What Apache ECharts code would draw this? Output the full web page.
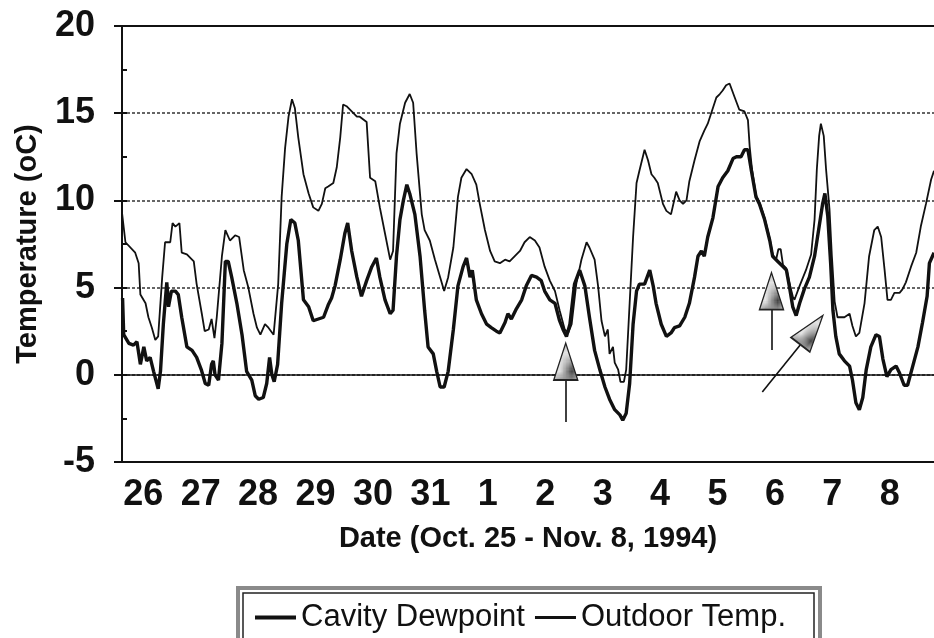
<!DOCTYPE html>
<html>
<head>
<meta charset="utf-8">
<script src="https://cdn.jsdelivr.net/npm/echarts@6/dist/echarts.min.js"></script>
<style>
  html, body { margin: 0; padding: 0; background: #fff; }
  #chart-container { width: 934px; height: 638px; }
</style>
</head>
<body>
<div id="chart-container"></div>
<script>
// x = days after Oct. 25 00:00, value = temperature in oC
const dateLabels = ['26', '27', '28', '29', '30', '31', '1', '2', '3', '4', '5', '6', '7', '8'];
const dateTicks = [1, 2, 3, 4, 5, 6, 7, 8, 9, 10, 11, 12, 13, 14];

const outdoorTemp = [
  [0.63,9.3],[0.69,7.6],[0.86,7.0],[0.92,6.4],[0.95,4.6],[1.04,4.1],[1.09,3.3],[1.15,2.7],[1.21,2.0],[1.26,2.2],
  [1.33,5.6],[1.38,7.6],[1.47,7.6],[1.51,8.7],[1.56,8.5],[1.63,8.7],[1.67,7.0],[1.76,6.9],[1.88,6.5],[1.93,5.2],
  [2.02,3.5],[2.07,2.5],[2.14,2.6],[2.19,3.2],[2.24,2.1],[2.28,3.3],[2.37,6.8],[2.43,8.3],[2.51,7.7],[2.60,8.0],
  [2.67,7.9],[2.75,6.0],[2.83,5.0],[2.92,3.5],[2.98,2.7],[3.04,2.3],[3.12,2.9],[3.18,2.7],[3.27,2.3],[3.35,5.2],
  [3.41,10.2],[3.47,13.0],[3.53,14.8],[3.59,15.8],[3.64,15.3],[3.70,13.6],[3.79,11.5],[3.88,10.4],[3.96,9.6],[4.05,9.4],
  [4.11,9.8],[4.17,10.7],[4.22,10.8],[4.31,11.0],[4.37,11.9],[4.43,13.6],[4.48,15.5],[4.54,15.4],[4.63,15.1],[4.72,14.8],
  [4.77,14.8],[4.89,14.5],[4.95,11.3],[5.04,11.1],[5.12,9.6],[5.21,8.1],[5.30,6.6],[5.35,7.1],[5.41,12.7],[5.47,14.4],
  [5.56,15.6],[5.64,16.1],[5.70,15.6],[5.76,12.7],[5.85,9.2],[5.90,8.3],[5.99,7.7],[6.08,6.6],[6.17,5.6],[6.24,4.8],
  [6.31,5.6],[6.40,7.3],[6.48,10.2],[6.54,11.3],[6.63,11.8],[6.72,11.5],[6.80,10.9],[6.86,9.8],[6.95,8.3],[7.04,7.1],
  [7.12,6.5],[7.21,6.4],[7.30,6.6],[7.38,6.5],[7.47,6.8],[7.56,7.1],[7.64,7.6],[7.73,7.9],[7.82,7.7],[7.90,7.3],
  [7.99,6.2],[8.08,5.4],[8.17,4.8],[8.25,3.7],[8.34,2.6],[8.40,2.4],[8.46,2.9],[8.54,5.2],[8.63,6.6],[8.72,7.6],
  [8.77,7.3],[8.86,6.6],[8.92,5.1],[8.98,3.1],[9.04,2.2],[9.09,2.6],[9.12,1.2],[9.18,1.6],[9.21,0.7],[9.27,0.3],
  [9.31,-0.4],[9.37,-0.4],[9.41,0.3],[9.47,4.1],[9.53,7.9],[9.59,11.0],[9.64,11.7],[9.73,12.9],[9.79,12.3],[9.85,11.5],
  [9.90,11.3],[9.96,11.0],[10.05,9.8],[10.11,9.4],[10.19,9.2],[10.28,10.5],[10.34,10.0],[10.40,9.8],[10.46,10.0],[10.51,11.1],
  [10.60,12.3],[10.69,13.4],[10.77,14.0],[10.83,14.4],[10.89,15.0],[10.98,15.9],[11.04,16.1],[11.09,16.3],[11.15,16.6],[11.21,16.7],
  [11.30,15.9],[11.38,15.2],[11.47,15.1],[11.50,15.0],[11.53,14.6],[11.56,13.1],[11.60,11.8],[11.67,10.3],[11.73,9.9],[11.82,9.0],
  [11.91,7.8],[11.96,6.9],[12.02,6.6],[12.06,7.2],[12.10,7.2],[12.14,6.3],[12.20,6.1],[12.25,5.3],[12.31,4.5],[12.34,4.3],
  [12.43,5.1],[12.54,6.0],[12.63,6.9],[12.69,8.9],[12.73,11.8],[12.77,13.7],[12.80,14.4],[12.85,13.7],[12.89,11.8],[12.95,9.5],
  [12.99,6.9],[13.04,4.2],[13.09,3.3],[13.21,3.3],[13.30,3.5],[13.35,2.8],[13.41,2.2],[13.47,2.4],[13.56,4.1],[13.64,6.8],
  [13.73,8.3],[13.79,8.5],[13.85,7.9],[13.91,6.0],[13.96,4.3],[14.02,4.3],[14.08,4.7],[14.17,4.7],[14.22,4.9],[14.28,5.3],
  [14.37,6.2],[14.46,7.0],[14.54,8.5],[14.63,9.8],[14.72,11.2],[14.77,11.7]
];

const cavityDewpoint = [
  [0.64,4.4],[0.66,2.3],[0.75,1.8],[0.83,1.7],[0.89,1.9],[0.95,0.6],[1.01,1.6],[1.06,0.8],[1.12,1.0],[1.18,0.2],
  [1.26,-0.8],[1.30,0.2],[1.35,2.9],[1.41,5.3],[1.44,3.9],[1.49,4.8],[1.56,4.8],[1.61,4.6],[1.67,3.3],[1.76,1.6],
  [1.85,1.4],[1.93,1.0],[2.01,0.3],[2.08,-0.5],[2.14,-0.6],[2.19,0.6],[2.22,0.8],[2.25,0.0],[2.31,-0.3],[2.37,1.8],
  [2.43,6.5],[2.48,6.5],[2.54,5.6],[2.63,4.1],[2.72,2.3],[2.80,0.2],[2.89,-0.3],[2.95,-1.2],[3.01,-1.4],[3.09,-1.3],
  [3.15,-0.5],[3.20,1.0],[3.24,0.0],[3.28,-0.4],[3.34,0.6],[3.41,4.1],[3.50,7.5],[3.57,8.9],[3.64,8.7],[3.70,7.7],
  [3.79,4.3],[3.88,3.9],[3.96,3.1],[4.05,3.2],[4.14,3.3],[4.22,4.0],[4.28,4.4],[4.34,5.1],[4.43,6.6],[4.51,8.1],
  [4.56,8.7],[4.63,7.1],[4.72,5.6],[4.80,4.5],[4.89,5.4],[4.98,6.2],[5.06,6.7],[5.12,5.6],[5.21,4.3],[5.30,3.5],
  [5.35,3.7],[5.41,6.8],[5.47,8.9],[5.53,10.0],[5.59,10.9],[5.64,10.4],[5.73,9.2],[5.82,6.8],[5.90,3.7],[5.96,1.6],
  [6.05,1.2],[6.11,0.2],[6.17,-0.7],[6.24,-0.7],[6.31,0.2],[6.40,2.6],[6.48,5.1],[6.57,6.2],[6.63,6.7],[6.69,5.6],
  [6.73,6.0],[6.80,4.3],[6.89,3.5],[6.98,2.9],[7.06,2.7],[7.15,2.5],[7.21,2.4],[7.30,3.0],[7.35,3.5],[7.41,3.2],
  [7.50,3.8],[7.59,4.3],[7.67,5.1],[7.76,5.7],[7.85,5.6],[7.93,5.4],[7.99,4.8],[8.08,4.3],[8.17,4.1],[8.25,3.1],
  [8.31,2.6],[8.37,2.2],[8.43,2.9],[8.51,5.2],[8.60,6.0],[8.69,5.1],[8.77,3.3],[8.86,1.4],[8.95,0.3],[9.04,-0.7],
  [9.12,-1.4],[9.21,-2.0],[9.30,-2.3],[9.35,-2.6],[9.41,-2.2],[9.47,-0.5],[9.53,2.9],[9.59,4.8],[9.64,5.2],[9.73,5.2],
  [9.82,6.0],[9.88,5.1],[9.93,4.1],[10.02,2.9],[10.11,2.2],[10.19,2.4],[10.25,2.7],[10.34,2.8],[10.43,3.3],[10.51,4.1],
  [10.60,5.6],[10.66,6.8],[10.72,7.1],[10.77,6.8],[10.83,7.9],[10.92,9.0],[11.01,10.8],[11.09,11.3],[11.18,11.7],[11.27,12.4],
  [11.33,12.5],[11.41,12.5],[11.47,12.9],[11.53,12.9],[11.59,11.7],[11.67,10.2],[11.73,9.8],[11.82,8.9],[11.91,7.7],[11.96,6.8],
  [12.05,6.5],[12.14,6.2],[12.20,6.0],[12.25,5.1],[12.31,3.9],[12.37,3.4],[12.43,4.1],[12.51,4.9],[12.60,5.6],[12.69,6.8],
  [12.77,8.5],[12.83,9.8],[12.87,10.4],[12.92,9.1],[12.97,6.4],[13.01,3.7],[13.06,2.2],[13.12,1.2],[13.21,0.8],[13.30,0.5],
  [13.35,-0.3],[13.41,-1.6],[13.47,-2.0],[13.53,-1.3],[13.59,0.3],[13.67,1.6],[13.76,2.3],[13.82,2.2],[13.88,0.9],[13.95,-0.1],
  [14.02,0.3],[14.11,0.5],[14.17,0.1],[14.25,-0.6],[14.31,-0.6],[14.40,0.5],[14.49,1.6],[14.57,3.0],[14.65,4.5],[14.69,6.4],
  [14.77,7.0]
];

// annotation arrows: head centre [x, y, rotation], stem [from, to]
const arrowHeads = [[8.357, 0.76, 0], [11.94, 4.80, 0], [12.64, 2.57, -37.5]];
const arrowStems = [
  [[8.357, -0.30], [8.357, -2.71]],
  [[11.94, 3.72], [11.94, 1.42]],
  [[11.78, -0.99], [12.44, 1.71]]
];

const FONT = "'Liberation Sans', Arial, Helvetica, sans-serif";

// dotted grey fill for the arrow heads
var hatch = document.createElement('canvas');
hatch.width = 3; hatch.height = 3;
var hctx = hatch.getContext('2d');
hctx.fillStyle = '#e4e4e4';
hctx.fillRect(0, 0, 3, 3);
hctx.fillStyle = '#444';
hctx.fillRect(0, 0, 1, 1);
hctx.fillRect(2, 1, 1, 1);
hctx.fillRect(1, 2, 1, 1);

var dom = document.getElementById('chart-container');
var myChart = echarts.init(dom, null, { renderer: 'canvas' });

var option = {
  animation: false,
  backgroundColor: '#fff',
  grid: { left: 122, right: 0, top: 26, bottom: 176, containLabel: false },
  xAxis: [
    {
      type: 'value',
      min: 0.63,
      max: 14.77,
      name: 'Date (Oct. 25 - Nov. 8, 1994)',
      nameLocation: 'middle',
      nameGap: 62,
      nameTextStyle: { fontFamily: FONT, fontWeight: 'bold', fontSize: 29, color: '#111' },
      axisLine: { show: true, onZero: false, lineStyle: { color: '#111', width: 2 } },
      axisTick: { show: false },
      splitLine: { show: false },
      axisLabel: {
        customValues: dateTicks,
        margin: 15,
        fontFamily: FONT, fontWeight: 'bold', fontSize: 36, color: '#111',
        formatter: v => dateLabels[Math.round(v) - 1] || ''
      }
    },
    {
      type: 'value', position: 'top', min: 0.63, max: 14.77,
      axisLine: { show: true, onZero: false, lineStyle: { color: '#111', width: 2 } },
      axisTick: { show: false }, axisLabel: { show: false }, splitLine: { show: false }
    }
  ],
  yAxis: [
    {
      type: 'value',
      min: -5, max: 20, interval: 5,
      name: 'Temperature (oC)',
      nameLocation: 'middle',
      nameGap: 80,
      nameTextStyle: { fontFamily: FONT, fontWeight: 'bold', fontSize: 29, color: '#111' },
      axisLine: { show: true, onZero: false, lineStyle: { color: '#111', width: 2 } },
      axisTick: { show: true, length: 8, lineStyle: { color: '#111', width: 2 } },
      axisLabel: { margin: 27, fontFamily: FONT, fontWeight: 'bold', fontSize: 36, color: '#111' },
      splitLine: { show: true, lineStyle: { color: '#333', width: 1.6, type: [3, 2] } }
    },
    {
      // small inside ticks every 2.5
      type: 'value', position: 'left', min: -5, max: 20, interval: 2.5,
      axisLine: { show: false },
      axisTick: { show: true, inside: true, length: 5, lineStyle: { color: '#111', width: 2 } },
      axisLabel: { show: false }, splitLine: { show: false }
    }
  ],
  legend: {
    left: 250, top: 597,
    itemWidth: 41, itemHeight: 14, itemGap: 10,
    textStyle: { fontFamily: FONT, fontSize: 31, color: '#111' },
    data: [
      { name: 'Cavity Dewpoint', icon: 'path://M0,0M0,14M0,5L41,5L41,9L0,9Z' },
      { name: 'Outdoor Temp.', icon: 'path://M0,0M0,14M0,5.5L41,5.5L41,8.5L0,8.5Z' }
    ]
  },
  graphic: [
    { type: 'rect', shape: { x: 238, y: 588, width: 582, height: 90 }, style: { fill: null, stroke: '#8a8a8a', lineWidth: 4 } },
    { type: 'rect', shape: { x: 243, y: 593, width: 571, height: 80 }, style: { fill: null, stroke: '#222', lineWidth: 1.5 } }
  ],
  series: [
    {
      name: 'Outdoor Temp.',
      type: 'line',
      data: outdoorTemp,
      showSymbol: false, symbol: 'none',
      lineStyle: { color: '#111', width: 1.8 },
      itemStyle: { color: '#111' },
      z: 3,
      markLine: {
        silent: true, symbol: 'none',
        label: { show: false },
        lineStyle: { color: '#111', width: 1.6, type: 'solid' },
        data: [{ yAxis: 0 }].concat(arrowStems.map(s => [{ coord: s[0] }, { coord: s[1] }]))
      },
      markPoint: {
        silent: true,
        symbol: 'triangle',
        symbolSize: [24, 37],
        label: { show: false },
        itemStyle: { color: { image: hatch, repeat: 'repeat' }, borderColor: '#222', borderWidth: 1.5 },
        data: arrowHeads.map(a => ({ coord: [a[0], a[1]], symbolRotate: a[2] }))
      }
    },
    {
      name: 'Cavity Dewpoint',
      type: 'line',
      data: cavityDewpoint,
      showSymbol: false, symbol: 'none',
      lineStyle: { color: '#111', width: 3.4 },
      itemStyle: { color: '#111' },
      z: 4
    }
  ]
};

myChart.setOption(option);
window.addEventListener('resize', myChart.resize);
</script>
</body>
</html>
